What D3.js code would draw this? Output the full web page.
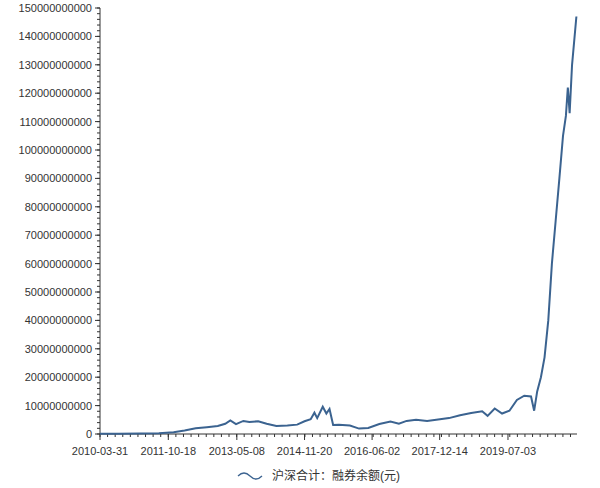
<!DOCTYPE html><html><head><meta charset="utf-8"><script src="https://cdn.jsdelivr.net/npm/d3@7"></script>
<style>body{margin:0;background:#fff}text{font-family:Arial,"Liberation Sans","Noto Sans CJK SC",sans-serif}</style></head><body><svg id="c" width="600" height="488"></svg><script>
const dates=["2010-03-31","2010-09-01","2011-03-01","2011-08-01","2011-12-01","2012-03-01","2012-06-01","2012-09-01","2012-12-01","2013-02-01","2013-03-15","2013-05-01","2013-07-01","2013-08-20","2013-11-01","2014-01-10","2014-04-01","2014-07-01","2014-09-20","2014-11-20","2015-01-10","2015-02-10","2015-03-05","2015-04-20","2015-05-20","2015-06-15","2015-07-15","2015-09-01","2015-12-01","2016-02-15","2016-05-01","2016-08-01","2016-11-01","2017-01-10","2017-03-15","2017-06-01","2017-09-01","2017-12-01","2018-03-01","2018-06-01","2018-09-01","2018-12-01","2019-01-15","2019-03-15","2019-05-15","2019-07-15","2019-09-15","2019-11-15","2020-01-10","2020-02-05","2020-03-01","2020-04-01","2020-05-01","2020-06-01","2020-07-01","2020-08-01","2020-09-01","2020-10-01","2020-10-25","2020-11-10","2020-11-25","2020-12-15","2021-01-20"];
const values=[0.1,0.1,0.2,0.3,0.6,1.2,2.0,2.4,2.8,3.6,4.8,3.5,4.6,4.2,4.5,3.6,2.8,3.0,3.3,4.5,5.2,7.5,5.6,9.6,7.2,8.8,3.2,3.3,3.0,1.9,2.1,3.5,4.4,3.6,4.6,5.0,4.6,5.1,5.6,6.6,7.4,8.0,6.4,9.0,7.2,8.2,12.0,13.5,13.2,8.2,15,20,27,40,60,75,90,105,112,122,113,130,147];
const yTicks=d3.range(0,151,10);
const xLabels=["2010-03-31","2011-10-18","2013-05-08","2014-11-20","2016-06-02","2017-12-14","2019-07-03"];
const seriesName="沪深合计：融券余额(元)";
const p=d3.timeParse("%Y-%m-%d");
const svg=d3.select("#c");
const x=d3.scaleTime().domain([p("2010-03-31"),p("2021-01-25")]).range([100,577]);
const y=d3.scaleLinear().domain([0,150]).range([434,8]);
const ax=svg.append("g").attr("transform","translate(0,434)");
ax.append("line").attr("x1",100).attr("x2",577).attr("stroke","#333");
const minor=d3.range(0,70).map(i=>new Date(+p("2010-03-31")+(+p("2011-10-18")-p("2010-03-31"))/9*i)).filter(d=>d<=x.domain()[1]);
ax.selectAll(".mt").data(minor).join("line").attr("x1",d=>x(d)).attr("x2",d=>x(d)).attr("y2",3).attr("stroke","#333");
ax.selectAll(".Mt").data(xLabels).join("line").attr("x1",d=>x(p(d))).attr("x2",d=>x(p(d))).attr("y2",6).attr("stroke","#333");
ax.selectAll("text").data(xLabels).join("text").attr("x",d=>x(p(d))).attr("y",21).attr("text-anchor","middle").attr("font-size",11).attr("fill","#333").text(d=>d);
const ay=svg.append("g");
ay.append("line").attr("x1",100).attr("x2",100).attr("y1",434).attr("y2",8).attr("stroke","#333");
ay.selectAll(".m").data(d3.range(0,151,2)).join("line").attr("x1",97).attr("x2",100).attr("y1",d=>y(d)).attr("y2",d=>y(d)).attr("stroke","#333");
ay.selectAll(".M").data(yTicks).join("line").attr("x1",95).attr("x2",100).attr("y1",d=>y(d)).attr("y2",d=>y(d)).attr("stroke","#333");
ay.selectAll("text").data(yTicks).join("text").attr("x",92).attr("y",d=>y(d)+4).attr("text-anchor","end").attr("font-size",11).attr("fill","#333").text(d=>String(d*1e9));
const line=d3.line().x((d,i)=>x(p(dates[i]))).y(d=>y(d));
svg.append("path").datum(values).attr("d",line).attr("fill","none").attr("stroke","#3b6390").attr("stroke-width",2);
svg.append("path").attr("d","M238,476 q6,-6 12,0 t12,0").attr("fill","none").attr("stroke","#3b6390").attr("stroke-width",1.3);
svg.append("text").attr("x",272).attr("y",480).attr("font-size",12).attr("fill","#333").text(seriesName);
</script></body></html>
